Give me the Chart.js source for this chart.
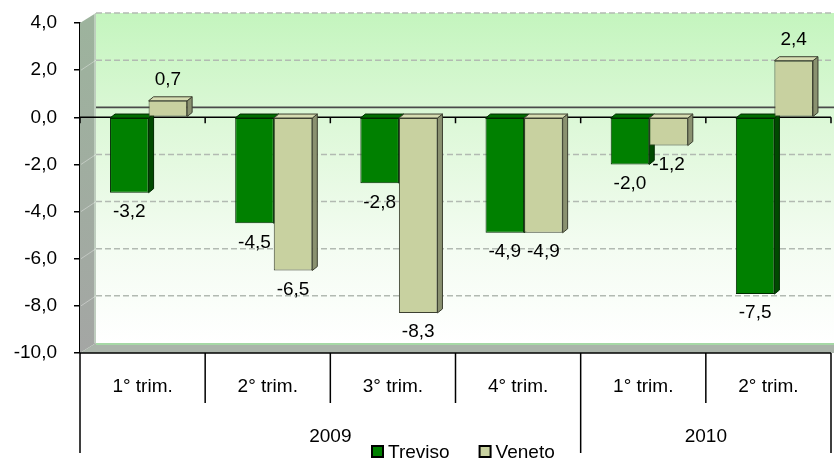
<!DOCTYPE html>
<html>
<head>
<meta charset="utf-8">
<script src="https://cdn.jsdelivr.net/npm/chart.js@4/dist/chart.umd.min.js"></script>
<style>
  html, body { margin: 0; padding: 0; background: #ffffff; }
  #wrap { width: 834px; height: 460px; }
</style>
</head>
<body>
<div id="wrap"><canvas id="c" width="834" height="460"></canvas></div>
<script>
// Quarterly change (%), Treviso vs Veneto
const quarters = ['1° trim.', '2° trim.', '3° trim.', '4° trim.', '1° trim.', '2° trim.'];
const years = ['2009', '2010'];
const quartersPerYear = [4, 2];
const treviso = [-3.2, -4.5, -2.8, -4.9, -2.0, -7.5];
const veneto = [0.7, -6.5, -8.3, -4.9, -1.2, 2.4];
const yMin = -10;
const yMax = 4;
const yStep = 2;

const FONT = '"Liberation Sans", Arial, Helvetica, sans-serif';
const FONT_SIZE = 19;

// 3D box geometry
const WALL_DX = 16, WALL_DY = 10;   // back wall offset
const BAR_DX = 5, BAR_DY = 4;       // bar depth
const BAR_SHIFT = 6;                // bars sit a little back inside the box

const TREVISO = { front: '#008000', top: '#006c00', side: '#004a00', edge: '#002a00' };
const VENETO  = { front: '#c8d1a0', top: '#d6dcb2', side: '#8a9170', edge: '#3c4030' };
const STYLES = [TREVISO, VENETO];

const fmt = v => Number(v).toFixed(1).replace('.', ',');

function poly(ctx, pts, fill, stroke, lw) {
  ctx.beginPath();
  ctx.moveTo(pts[0][0], pts[0][1]);
  for (let i = 1; i < pts.length; i++) ctx.lineTo(pts[i][0], pts[i][1]);
  ctx.closePath();
  if (fill) { ctx.fillStyle = fill; ctx.fill(); }
  if (stroke) { ctx.strokeStyle = stroke; ctx.lineWidth = lw || 1; ctx.stroke(); }
}

const box3d = {
  id: 'box3d',
  afterLayout(chart) {
    const xs = chart.scales.x;
    xs.left += BAR_SHIFT;
    xs.right += BAR_SHIFT;
    xs.configure();
  },
  beforeDatasetsDraw(chart) {
    const { ctx, chartArea: a, scales: { y } } = chart;
    const L = a.left, R = a.right, T = a.top, B = a.bottom;
    const W = chart.width;
    ctx.save();

    // back wall
    const g = ctx.createLinearGradient(0, T - WALL_DY, 0, B - WALL_DY);
    g.addColorStop(0, '#c4f5be');
    g.addColorStop(0.35, '#def8d9');
    g.addColorStop(0.7, '#f3fcf1');
    g.addColorStop(1, '#ffffff');
    ctx.fillStyle = g;
    ctx.fillRect(L + WALL_DX, T - WALL_DY, W - (L + WALL_DX), B - T);

    // left side wall
    const gw = ctx.createLinearGradient(0, T, 0, B);
    gw.addColorStop(0, '#9db39d');
    gw.addColorStop(1, '#a4a6a4');
    poly(ctx, [[L, T], [L + WALL_DX, T - WALL_DY], [L + WALL_DX, B - WALL_DY], [L, B]], gw);
    ctx.strokeStyle = '#c8d8c8';
    ctx.lineWidth = 1.5;
    ctx.beginPath();
    ctx.moveTo(L + WALL_DX - 1, T - WALL_DY + 1);
    ctx.lineTo(L + WALL_DX - 1, B - WALL_DY);
    ctx.stroke();

    // floor
    poly(ctx, [[L, B], [L + WALL_DX, B - WALL_DY], [W, B - WALL_DY], [W, B]], '#aab4aa');
    ctx.strokeStyle = '#a6d8a6';
    ctx.lineWidth = 2;
    ctx.beginPath();
    ctx.moveTo(L + WALL_DX, B - WALL_DY + 1);
    ctx.lineTo(W, B - WALL_DY + 1);
    ctx.stroke();

    // dashed gridlines on the back wall
    ctx.setLineDash([6, 3]);
    ctx.strokeStyle = '#b2bab2';
    ctx.lineWidth = 1.5;
    y.ticks.forEach(t => {
      if (t.value === 0 || t.value === yMin) return;
      const yy = y.getPixelForValue(t.value) - WALL_DY;
      ctx.beginPath();
      ctx.moveTo(L + WALL_DX, yy);
      ctx.lineTo(W, yy);
      ctx.stroke();
    });
    ctx.setLineDash([]);
    ctx.strokeStyle = 'rgba(255,255,255,0.35)';
    ctx.lineWidth = 1;
    y.ticks.forEach(t => {
      if (t.value === 0 || t.value === yMin || t.value === yMax) return;
      const yy = y.getPixelForValue(t.value);
      ctx.beginPath();
      ctx.moveTo(L + 1, yy);
      ctx.lineTo(L + WALL_DX, yy - WALL_DY);
      ctx.stroke();
    });

    // zero line on the back wall
    const z = y.getPixelForValue(0);
    ctx.strokeStyle = '#4a4a4a';
    ctx.lineWidth = 1.8;
    ctx.beginPath();
    ctx.moveTo(L + WALL_DX, z - WALL_DY);
    ctx.lineTo(W, z - WALL_DY);
    ctx.stroke();

    // front category axis at zero with tick marks
    const xs = chart.scales.x;
    const step = xs.getPixelForValue(1) - xs.getPixelForValue(0);
    ctx.strokeStyle = '#000';
    ctx.lineWidth = 1.5;
    ctx.beginPath();
    ctx.moveTo(L, z);
    ctx.lineTo(R, z);
    for (let k = 0; k <= quarters.length; k++) {
      const xb = xs.getPixelForValue(0) - step / 2 - BAR_SHIFT + k * step;
      ctx.moveTo(xb, z);
      ctx.lineTo(xb, z + 6);
    }
    ctx.stroke();

    // bar depth: side and top faces, drawn under the front faces
    chart.data.datasets.forEach((ds, di) => {
      const st = STYLES[di];
      chart.getDatasetMeta(di).data.forEach(bar => {
        const l = bar.x - bar.width / 2, r = bar.x + bar.width / 2;
        const top = Math.min(bar.y, bar.base), bot = Math.max(bar.y, bar.base);
        poly(ctx, [[r, top], [r + BAR_DX, top - BAR_DY], [r + BAR_DX, bot - BAR_DY], [r, bot]], st.side, st.edge, 1);
        poly(ctx, [[l, top], [l + BAR_DX, top - BAR_DY], [r + BAR_DX, top - BAR_DY], [r, top]], st.top, st.edge, 1);
      });
    });
    ctx.restore();
  },
  afterDatasetsDraw(chart) {
    const { ctx } = chart;
    ctx.save();
    ctx.font = FONT_SIZE + 'px ' + FONT;
    ctx.fillStyle = '#000';
    ctx.textAlign = 'center';
    ctx.textBaseline = 'middle';
    chart.data.datasets.forEach((ds, di) => {
      chart.getDatasetMeta(di).data.forEach((bar, i) => {
        const v = ds.data[i];
        const yy = v >= 0 ? bar.y - 21 : bar.y + 19;
        ctx.fillText(fmt(v), bar.x, yy);
      });
    });
    ctx.restore();
  },
  afterDraw(chart) {
    const { ctx, chartArea: a } = chart;
    const xs = chart.scales.x;
    const B = a.bottom;
    const step = xs.getPixelForValue(1) - xs.getPixelForValue(0);
    const x0 = xs.getPixelForValue(0) - step / 2 - BAR_SHIFT;
    ctx.save();

    // category table under the plot
    ctx.strokeStyle = '#000';
    ctx.lineWidth = 1.5;
    ctx.beginPath();
    ctx.moveTo(a.left, B);
    ctx.lineTo(a.right, B);
    const yearEdges = [0];
    quartersPerYear.forEach(n => yearEdges.push(yearEdges[yearEdges.length - 1] + n));
    for (let k = 0; k <= quarters.length; k++) {
      const xb = x0 + k * step;
      const long = yearEdges.includes(k);
      ctx.moveTo(xb, B);
      ctx.lineTo(xb, B + (long ? 100 : 50));
    }
    ctx.stroke();

    ctx.font = FONT_SIZE + 'px ' + FONT;
    ctx.fillStyle = '#000';
    ctx.textAlign = 'center';
    ctx.textBaseline = 'middle';
    quarters.forEach((q, i) => ctx.fillText(q, x0 + (i + 0.5) * step, B + 34));
    years.forEach((yr, j) => {
      const c = x0 + (yearEdges[j] + yearEdges[j + 1]) / 2 * step;
      ctx.fillText(yr, c, B + 84);
    });

    // legend
    let lx = 372;
    const ly = 452;
    ctx.textAlign = 'left';
    chart.data.datasets.forEach((ds, di) => {
      ctx.fillStyle = ds.backgroundColor;
      ctx.fillRect(lx, ly - 6, 11, 11);
      ctx.strokeStyle = '#000';
      ctx.lineWidth = 2;
      ctx.strokeRect(lx, ly - 6, 11, 11);
      ctx.fillStyle = '#000';
      ctx.fillText(ds.label, lx + 16, ly + 1);
      lx += 16 + ctx.measureText(ds.label).width + 30;
    });
    ctx.restore();
  }
};

new Chart(document.getElementById('c'), {
  type: 'bar',
  data: {
    labels: quarters,
    datasets: [
      { label: 'Treviso', data: treviso, backgroundColor: TREVISO.front, borderColor: TREVISO.edge, borderWidth: 1, borderSkipped: false },
      { label: 'Veneto', data: veneto, backgroundColor: VENETO.front, borderColor: VENETO.edge, borderWidth: 1, borderSkipped: false }
    ]
  },
  options: {
    responsive: false,
    animation: false,
    layout: { padding: { top: 23, right: 3, bottom: 107, left: 0 } },
    datasets: { bar: { categoryPercentage: 0.616, barPercentage: 1 } },
    plugins: { legend: { display: false }, tooltip: { enabled: false } },
    scales: {
      x: { display: false, offset: true },
      y: {
        min: yMin, max: yMax,
        afterFit(s) { s.width = 80; s.paddingTop = 0; s.paddingBottom = 0; },
        ticks: { stepSize: yStep, callback: v => fmt(v), font: { family: FONT, size: FONT_SIZE }, color: '#000', padding: 17 },
        grid: { drawOnChartArea: false, tickLength: 6, color: '#000', lineWidth: 1.5 },
        border: { color: '#000', width: 1.5 }
      }
    }
  },
  plugins: [box3d]
});
</script>
</body>
</html>
